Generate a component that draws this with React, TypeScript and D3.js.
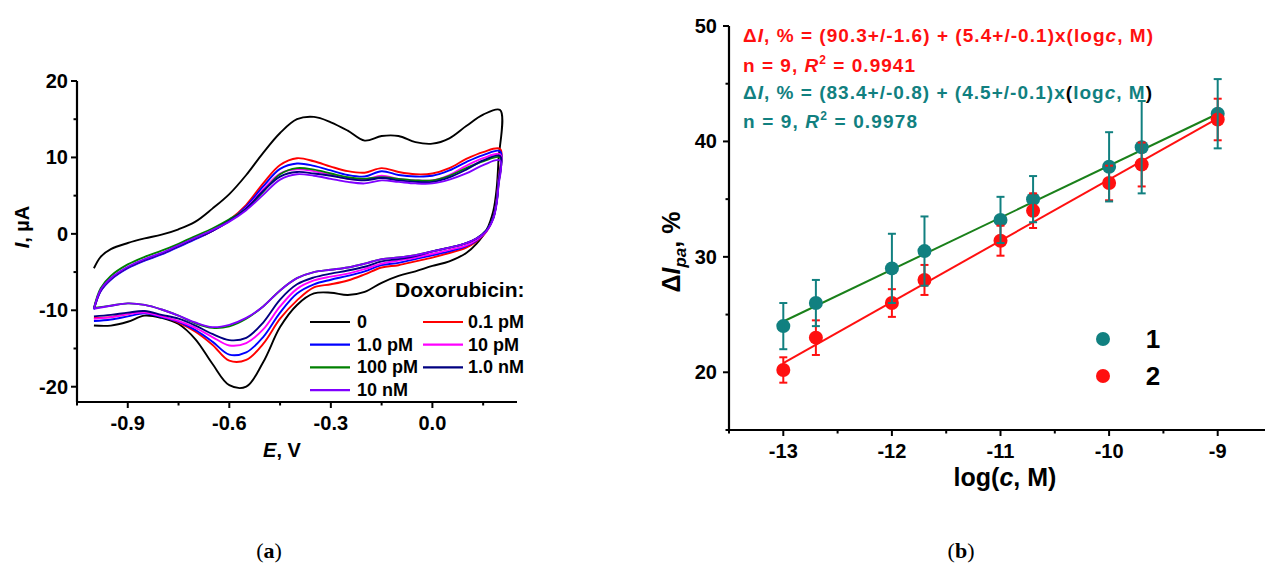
import React from "react";
import * as d3 from "d3";

// ---------- Panel (a): cyclic voltammograms ----------
const E_FWD = [-1.0, -0.98, -0.95, -0.9, -0.85, -0.8, -0.75, -0.7, -0.65, -0.6, -0.55, -0.5, -0.45, -0.4, -0.35, -0.3, -0.25, -0.2, -0.15, -0.1, -0.05, 0, 0.05, 0.1, 0.15, 0.2];
const E_REV = [0.195, 0.19, 0.18, 0.16, 0.13, 0.1, 0.05, 0, -0.05, -0.1, -0.15, -0.2, -0.25, -0.3, -0.35, -0.4, -0.45, -0.5, -0.55, -0.6, -0.65, -0.7, -0.75, -0.8, -0.85, -0.9, -0.95, -1.0];

const CONC_LABELS = ["0", "0.1 pM", "1.0 pM", "10 pM", "100 pM", "1.0 nM", "10 nM"];
const CONC_COLORS = ["#000000", "#ff0000", "#0000ff", "#ff00ff", "#008000", "#000080", "#8000ff"];

const I_FWD_0 = [-4.5, -3.0, -2.0, -1.2, -0.6, -0.1, 0.6, 1.6, 3.3, 5.2, 7.7, 10.6, 13.2, 15.0, 15.3, 14.6, 13.5, 12.2, 12.8, 12.8, 12.0, 11.8, 12.5, 14.1, 15.6, 16.2];
const I_REV_0 = [9.5, 6.0, 3.0, 0.5, -1.3, -2.5, -3.6, -4.2, -4.9, -5.5, -6.4, -7.6, -8.0, -7.7, -7.8, -9.3, -12.2, -16.8, -20.0, -19.8, -17.0, -13.8, -11.8, -11.0, -10.7, -11.5, -12.0, -12.0];

const I_FWD_01P = [-9.8, -7.4, -5.9, -4.4, -3.4, -2.6, -1.6, -0.6, 0.4, 1.8, 3.8, 6.6, 9.0, 9.9, 9.5, 8.8, 8.2, 8.0, 8.6, 8.1, 7.8, 7.9, 8.6, 9.8, 10.7, 11.1];
const I_REV_01P = [7.0, 4.5, 2.2, 0.3, -1.0, -1.8, -2.5, -3.1, -3.6, -4.1, -4.4, -5.3, -6.1, -6.6, -7.0, -8.7, -11.1, -14.4, -16.5, -16.6, -14.5, -12.8, -11.6, -10.8, -10.2, -10.5, -10.9, -11.0];

const I_FWD_1P = [-9.9, -7.5, -6.0, -4.5, -3.5, -2.7, -1.7, -0.7, 0.4, 1.7, 3.6, 6.2, 8.5, 9.2, 8.9, 8.3, 7.7, 7.5, 8.2, 7.7, 7.5, 7.6, 8.3, 9.4, 10.3, 10.8];
const I_REV_1P = [6.8, 4.4, 2.2, 0.4, -0.9, -1.6, -2.3, -2.8, -3.3, -3.8, -4.1, -4.9, -5.5, -6.0, -6.6, -7.8, -10.3, -13.5, -15.5, -15.8, -14.1, -12.6, -11.5, -10.9, -10.4, -10.8, -11.2, -11.4];

const I_FWD_10P = [-9.8, -7.4, -5.9, -4.4, -3.4, -2.6, -1.6, -0.6, 0.4, 1.7, 3.4, 5.8, 7.9, 8.45, 8.2, 7.7, 7.2, 7.1, 7.6, 7.2, 7.0, 7.0, 7.7, 8.9, 9.9, 10.4];
const I_REV_10P = [6.6, 4.3, 2.1, 0.4, -0.8, -1.5, -2.1, -2.6, -3.1, -3.5, -3.9, -4.6, -5.2, -5.6, -6.1, -7.2, -9.5, -12.5, -14.3, -14.6, -13.5, -12.3, -11.4, -10.8, -10.3, -10.5, -10.9, -11.1];

const I_FWD_100P = [-9.7, -7.1, -5.5, -4.0, -3.0, -2.2, -1.3, -0.3, 0.7, 1.9, 3.3, 5.5, 7.8, 8.6, 8.4, 7.9, 7.4, 7.2, 7.4, 7.2, 7.0, 7.0, 7.6, 8.6, 9.5, 10.0];
const I_REV_100P = [6.4, 4.2, 2.1, 0.5, -0.6, -1.2, -1.8, -2.3, -2.8, -3.1, -3.3, -3.9, -4.4, -4.7, -5.0, -5.8, -7.4, -9.5, -11.1, -12.1, -12.3, -11.7, -10.7, -9.9, -9.3, -9.1, -9.4, -9.7];

const I_FWD_1N = [-9.8, -7.4, -5.9, -4.4, -3.4, -2.6, -1.6, -0.6, 0.4, 1.7, 3.3, 5.6, 7.5, 8.1, 7.9, 7.6, 7.2, 7.0, 7.3, 7.0, 6.8, 6.8, 7.4, 8.4, 9.6, 10.2];
const I_REV_1N = [6.5, 4.2, 2.1, 0.5, -0.6, -1.2, -1.8, -2.3, -2.9, -3.3, -3.6, -4.3, -4.8, -5.2, -5.7, -6.6, -8.6, -11.6, -13.6, -13.9, -13.1, -12.0, -11.1, -10.6, -10.1, -10.3, -10.6, -10.8];

const I_FWD_10N = [-9.8, -7.3, -5.8, -4.3, -3.3, -2.5, -1.5, -0.5, 0.5, 1.6, 3.1, 5.1, 7.1, 7.8, 7.6, 7.2, 6.8, 6.6, 7.0, 6.8, 6.6, 6.6, 7.1, 7.9, 9.0, 9.6];
const I_REV_10N = [6.2, 4.0, 2.0, 0.4, -0.6, -1.2, -1.8, -2.3, -2.8, -3.1, -3.3, -3.9, -4.4, -4.7, -5.0, -5.8, -7.4, -9.5, -11.0, -11.9, -12.2, -11.6, -10.7, -9.9, -9.3, -9.1, -9.4, -9.8];

const FWD_SERIES = [I_FWD_0, I_FWD_01P, I_FWD_1P, I_FWD_10P, I_FWD_100P, I_FWD_1N, I_FWD_10N];
const REV_SERIES = [I_REV_0, I_REV_01P, I_REV_1P, I_REV_10P, I_REV_100P, I_REV_1N, I_REV_10N];

const A_X_MAJOR = [-0.9, -0.6, -0.3, 0.0];
const A_X_MINOR = [-1.05, -0.75, -0.45, -0.15, 0.15];
const A_Y_MAJOR = [-20, -10, 0, 10, 20];
const A_Y_MINOR = [-15, -5, 5, 15];

// ---------- Panel (b): calibration ----------
const LOG_C = [-13, -12.7, -12, -11.7, -11, -10.7, -10, -9.7, -9];
const S1_Y = [24.0, 26.0, 29.0, 30.5, 33.2, 35.0, 37.8, 39.5, 42.4];
const S1_ERR = [2.0, 2.0, 3.0, 3.0, 2.0, 2.0, 3.0, 4.0, 3.0];
const S2_Y = [20.2, 23.0, 26.0, 28.0, 31.4, 34.0, 36.4, 38.0, 41.9];
const S2_ERR = [1.1, 1.5, 1.2, 1.3, 1.3, 1.5, 1.5, 1.9, 1.8];
const FIT_X = [-13, -9];
const FIT1_Y = [24.4, 42.4];
const FIT2_Y = [20.8, 42.0];
const B_X_MAJOR = [-13, -12, -11, -10, -9];
const B_X_MINOR = [-13.5, -12.5, -11.5, -10.5, -9.5, -8.5];
const B_Y_MAJOR = [20, 30, 40, 50];
const B_Y_MINOR = [15, 25, 35, 45];
const SERIES_NAMES = ["1", "2"];

const TEAL = "#118080";
const RED = "#ff1010";
const FIT_GREEN = "#1a801a";
const FONT = "'Liberation Sans', Arial, Helvetica, sans-serif";

export default function App() {
  const xA = d3.scaleLinear().domain([-1.05, 0.25]).range([77, 517]);
  const yA = d3.scaleLinear().domain([-22, 20]).range([402, 81]);
  const cvLine = d3
    .line<[number, number]>()
    .x((d) => xA(d[0]))
    .y((d) => yA(d[1]))
    .curve(d3.curveCatmullRom.alpha(0.5));

  const xB = d3.scaleLinear().domain([-13.5, -8.5]).range([729, 1272]);
  const yB = d3.scaleLinear().domain([15, 50]).range([430, 26]);
  const fitLine = d3
    .line<[number, number]>()
    .x((d) => xB(d[0]))
    .y((d) => yB(d[1]));

  const loops = FWD_SERIES.map((fwd, k) => {
    const pts: [number, number][] = [];
    E_FWD.forEach((e, i) => pts.push([e, fwd[i]]));
    E_REV.forEach((e, i) => pts.push([e, REV_SERIES[k][i]]));
    return pts;
  });

  const legCol = [
    { lx: 310, tx: 357 },
    { lx: 423, tx: 468 },
  ];
  const legRowY = (r: number) => 322 + r * 22.7;

  const axisW = 2.2;
  const errCap = 4;

  return (
    <svg
      width={1265}
      height={565}
      style={{ position: "absolute", left: 0, top: 0, display: "block", background: "#fff" }}
      fontFamily={FONT}
      fontWeight="bold"
    >
      <rect x={0} y={0} width={1265} height={565} fill="#fff" />
      {/* ================= Panel a ================= */}
      <g>
        {loops.map((pts, k) => (
          <path key={k} d={cvLine(pts) || ""} fill="none" stroke={CONC_COLORS[k]} strokeWidth={1.9} />
        ))}
        <line x1={xA(-1.05)} x2={xA(-1.05)} y1={yA(20)} y2={yA(-22)} stroke="#000" strokeWidth={axisW} />
        <line x1={xA(-1.05) - 1} x2={xA(0.25)} y1={yA(-22)} y2={yA(-22)} stroke="#000" strokeWidth={axisW} />
        {A_Y_MAJOR.map((v) => (
          <g key={"aym" + v}>
            <line x1={xA(-1.05) - 6} x2={xA(-1.05)} y1={yA(v)} y2={yA(v)} stroke="#000" strokeWidth={2} />
            <text x={68} y={yA(v) + 7} textAnchor="end" fontSize={20}>{v}</text>
          </g>
        ))}
        {A_Y_MINOR.map((v) => (
          <line key={"ayn" + v} x1={xA(-1.05) - 3.5} x2={xA(-1.05)} y1={yA(v)} y2={yA(v)} stroke="#000" strokeWidth={2} />
        ))}
        {A_X_MAJOR.map((v) => (
          <g key={"axm" + v}>
            <line x1={xA(v)} x2={xA(v)} y1={yA(-22)} y2={yA(-22) + 6} stroke="#000" strokeWidth={2} />
            <text x={xA(v)} y={430} textAnchor="middle" fontSize={20}>{v.toFixed(1)}</text>
          </g>
        ))}
        {A_X_MINOR.map((v) => (
          <line key={"axn" + v} x1={xA(v)} x2={xA(v)} y1={yA(-22)} y2={yA(-22) + 3.5} stroke="#000" strokeWidth={2} />
        ))}
        <text x={282} y={457} textAnchor="middle" fontSize={20}>
          <tspan fontStyle="italic">E</tspan>, V
        </text>
        <text transform={`translate(29,227) rotate(-90)`} textAnchor="middle" fontSize={20}>
          <tspan fontStyle="italic">I</tspan>, µA
        </text>
        <text x={395} y={297} fontSize={21}>Doxorubicin:</text>
        {CONC_LABELS.map((lab, i) => {
          const col = i % 2;
          const row = Math.floor(i / 2);
          const y = legRowY(row);
          return (
            <g key={"leg" + i}>
              <line x1={legCol[col].lx} x2={legCol[col].lx + 40} y1={y} y2={y} stroke={CONC_COLORS[i]} strokeWidth={2.2} />
              <text x={legCol[col].tx} y={y + 6} fontSize={18}>{lab}</text>
            </g>
          );
        })}
      </g>

      {/* ================= Panel b ================= */}
      <g>
        <path d={fitLine(FIT_X.map((x, i) => [x, FIT1_Y[i]] as [number, number])) || ""} stroke={FIT_GREEN} strokeWidth={2} fill="none" />
        <path d={fitLine(FIT_X.map((x, i) => [x, FIT2_Y[i]] as [number, number])) || ""} stroke={RED} strokeWidth={2} fill="none" />
        {LOG_C.map((x, i) => (
          <circle key={"m1" + i} cx={xB(x)} cy={yB(S1_Y[i])} r={7} fill={TEAL} />
        ))}
        {LOG_C.map((x, i) => (
          <circle key={"m2" + i} cx={xB(x)} cy={yB(S2_Y[i])} r={7} fill={RED} />
        ))}
        {LOG_C.map((x, i) => (
          <g key={"e2" + i} stroke={RED} strokeWidth={2}>
            <line x1={xB(x)} x2={xB(x)} y1={yB(S2_Y[i] + S2_ERR[i])} y2={yB(S2_Y[i] - S2_ERR[i])} />
            <line x1={xB(x) - errCap} x2={xB(x) + errCap} y1={yB(S2_Y[i] + S2_ERR[i])} y2={yB(S2_Y[i] + S2_ERR[i])} />
            <line x1={xB(x) - errCap} x2={xB(x) + errCap} y1={yB(S2_Y[i] - S2_ERR[i])} y2={yB(S2_Y[i] - S2_ERR[i])} />
          </g>
        ))}
        {LOG_C.map((x, i) => (
          <g key={"e1" + i} stroke={TEAL} strokeWidth={2}>
            <line x1={xB(x)} x2={xB(x)} y1={yB(S1_Y[i] + S1_ERR[i])} y2={yB(S1_Y[i] - S1_ERR[i])} />
            <line x1={xB(x) - errCap} x2={xB(x) + errCap} y1={yB(S1_Y[i] + S1_ERR[i])} y2={yB(S1_Y[i] + S1_ERR[i])} />
            <line x1={xB(x) - errCap} x2={xB(x) + errCap} y1={yB(S1_Y[i] - S1_ERR[i])} y2={yB(S1_Y[i] - S1_ERR[i])} />
          </g>
        ))}
        <line x1={xB(-13.5)} x2={xB(-13.5)} y1={yB(50)} y2={yB(15)} stroke="#000" strokeWidth={axisW} />
        <line x1={xB(-13.5) - 1} x2={xB(-8.5)} y1={yB(15)} y2={yB(15)} stroke="#000" strokeWidth={axisW} />
        {B_Y_MAJOR.map((v) => (
          <g key={"bym" + v}>
            <line x1={xB(-13.5) - 6} x2={xB(-13.5)} y1={yB(v)} y2={yB(v)} stroke="#000" strokeWidth={2} />
            <text x={717} y={yB(v) + 7} textAnchor="end" fontSize={20}>{v}</text>
          </g>
        ))}
        {B_Y_MINOR.map((v) => (
          <line key={"byn" + v} x1={xB(-13.5) - 3.5} x2={xB(-13.5)} y1={yB(v)} y2={yB(v)} stroke="#000" strokeWidth={2} />
        ))}
        {B_X_MAJOR.map((v) => (
          <g key={"bxm" + v}>
            <line x1={xB(v)} x2={xB(v)} y1={yB(15)} y2={yB(15) + 6} stroke="#000" strokeWidth={2} />
            <text x={xB(v)} y={458} textAnchor="middle" fontSize={20}>{v}</text>
          </g>
        ))}
        {B_X_MINOR.map((v) => (
          <line key={"bxn" + v} x1={xB(v)} x2={xB(v)} y1={yB(15)} y2={yB(15) + 3.5} stroke="#000" strokeWidth={2} />
        ))}
        <text x={1005} y={486} textAnchor="middle" fontSize={25}>
          log(<tspan fontStyle="italic">c</tspan>, M)
        </text>
        <text transform={`translate(680,252) rotate(-90)`} textAnchor="middle" fontSize={25}>
          Δ<tspan fontStyle="italic">I</tspan>
          <tspan fontStyle="italic" fontSize={17} dy={6}>pa</tspan>
          <tspan dy={-6}>, %</tspan>
        </text>
        <text x={743} y={42} fontSize={19} fill={RED} textLength={410} lengthAdjust="spacing">
          Δ<tspan fontStyle="italic">I</tspan>, % = (90.3+/-1.6) + (5.4+/-0.1)x(log<tspan fontStyle="italic">c</tspan>, M)
        </text>
        <text x={743} y={72} fontSize={19} fill={RED} textLength={172} lengthAdjust="spacing">
          n = 9, <tspan fontStyle="italic">R</tspan><tspan fontSize={12} dy={-8}>2</tspan><tspan dy={8}> = 0.9941</tspan>
        </text>
        <text x={743} y={99} fontSize={19} fill={TEAL} textLength={409} lengthAdjust="spacing">
          Δ<tspan fontStyle="italic">I</tspan>, % = (83.4+/-0.8) + (4.5+/-0.1)x<tspan fill="#000">(</tspan>log<tspan fontStyle="italic">c</tspan>, M<tspan fill="#000">)</tspan>
        </text>
        <text x={743} y={128} fontSize={19} fill={TEAL} textLength={174} lengthAdjust="spacing">
          n = 9, <tspan fontStyle="italic">R</tspan><tspan fontSize={12} dy={-8}>2</tspan><tspan dy={8}> = 0.9978</tspan>
        </text>
        {SERIES_NAMES.map((n, i) => (
          <g key={"lg" + n}>
            <circle cx={1103} cy={339 + i * 37} r={7} fill={i === 0 ? TEAL : RED} />
            <text x={1153} y={348 + i * 37} textAnchor="middle" fontSize={26}>{n}</text>
          </g>
        ))}
      </g>

      <text x={269} y={558} textAnchor="middle" fontSize={22} fontWeight="normal" fontFamily="'Liberation Serif', 'DejaVu Serif', serif">
        (<tspan fontWeight="bold">a</tspan>)
      </text>
      <text x={961} y={558} textAnchor="middle" fontSize={22} fontWeight="normal" fontFamily="'Liberation Serif', 'DejaVu Serif', serif">
        (<tspan fontWeight="bold">b</tspan>)
      </text>
    </svg>
  );
}
